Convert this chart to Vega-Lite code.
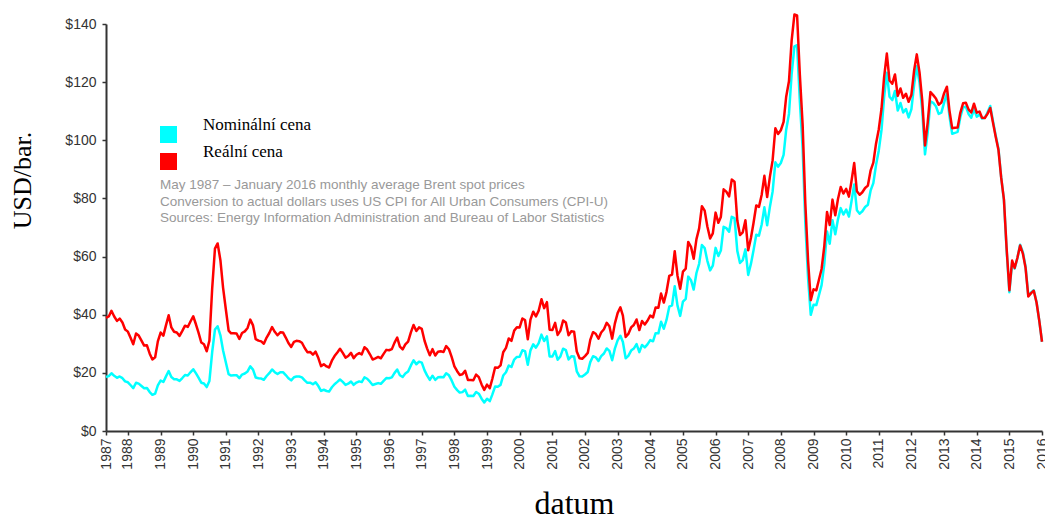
{
"$schema":"https://vega.github.io/schema/vega-lite/v6.json",
"width":936,"height":407,
"autosize":{"type":"none"},
"padding":{"left":106,"top":24,"right":3,"bottom":87},
"background":"white",
"config":{"view":{"stroke":null},"axis":{"grid":false}},
"data":{"values":[
{"date":"1987-05-01","nominal":18.58,"real":38.92},{"date":"1987-06-01","nominal":18.86,"real":39.39},{"date":"1987-07-01","nominal":19.86,"real":41.35},{"date":"1987-08-01","nominal":18.98,"real":39.38},{"date":"1987-09-01","nominal":18.31,"real":37.87},{"date":"1987-10-01","nominal":18.76,"real":38.67},{"date":"1987-11-01","nominal":18.17,"real":37.33},{"date":"1987-12-01","nominal":17.06,"real":34.93},
{"date":"1988-01-01","nominal":16.75,"real":34.18},{"date":"1988-02-01","nominal":15.73,"real":31.99},{"date":"1988-03-01","nominal":14.73,"real":29.85},{"date":"1988-04-01","nominal":16.6,"real":33.53},{"date":"1988-05-01","nominal":16.31,"real":32.83},{"date":"1988-06-01","nominal":15.49,"real":31.07},{"date":"1988-07-01","nominal":14.71,"real":29.4},{"date":"1988-08-01","nominal":14.81,"real":29.49},{"date":"1988-09-01","nominal":13.4,"real":26.58},{"date":"1988-10-01","nominal":12.46,"real":24.62},{"date":"1988-11-01","nominal":12.89,"real":25.37},{"date":"1988-12-01","nominal":15.72,"real":30.82},
{"date":"1989-01-01","nominal":17.35,"real":33.88},{"date":"1989-02-01","nominal":16.86,"real":32.79},{"date":"1989-03-01","nominal":18.71,"real":36.25},{"date":"1989-04-01","nominal":20.63,"real":39.81},{"date":"1989-05-01","nominal":18.55,"real":35.65},{"date":"1989-06-01","nominal":17.83,"real":34.13},{"date":"1989-07-01","nominal":17.76,"real":33.86},{"date":"1989-08-01","nominal":17.23,"real":32.71},{"date":"1989-09-01","nominal":18.22,"real":34.44},{"date":"1989-10-01","nominal":19.25,"real":36.23},{"date":"1989-11-01","nominal":19.1,"real":35.79},{"date":"1989-12-01","nominal":20.19,"real":37.67},
{"date":"1990-01-01","nominal":21.25,"real":39.47},{"date":"1990-02-01","nominal":19.81,"real":36.63},{"date":"1990-03-01","nominal":18.39,"real":33.86},{"date":"1990-04-01","nominal":16.61,"real":30.45},{"date":"1990-05-01","nominal":16.35,"real":29.84},{"date":"1990-06-01","nominal":15.1,"real":27.43},{"date":"1990-07-01","nominal":17.17,"real":31.07},{"date":"1990-08-01","nominal":27.17,"real":49.0},{"date":"1990-09-01","nominal":34.9,"real":62.73},{"date":"1990-10-01","nominal":36.02,"real":64.52},{"date":"1990-11-01","nominal":32.91,"real":58.75},{"date":"1990-12-01","nominal":27.69,"real":49.26},
{"date":"1991-01-01","nominal":23.57,"real":41.79},{"date":"1991-02-01","nominal":19.54,"real":34.53},{"date":"1991-03-01","nominal":19.08,"real":33.6},{"date":"1991-04-01","nominal":19.18,"real":33.65},{"date":"1991-05-01","nominal":19.19,"real":33.56},{"date":"1991-06-01","nominal":18.17,"real":31.66},{"date":"1991-07-01","nominal":19.4,"real":33.7},{"date":"1991-08-01","nominal":19.77,"real":34.26},{"date":"1991-09-01","nominal":20.5,"real":35.44},{"date":"1991-10-01","nominal":22.21,"real":38.3},{"date":"1991-11-01","nominal":21.11,"real":36.32},{"date":"1991-12-01","nominal":18.41,"real":31.59},
{"date":"1992-01-01","nominal":18.16,"real":31.09},{"date":"1992-02-01","nominal":18.05,"real":30.82},{"date":"1992-03-01","nominal":17.63,"real":30.03},{"date":"1992-04-01","nominal":18.92,"real":32.15},{"date":"1992-05-01","nominal":19.89,"real":33.71},{"date":"1992-06-01","nominal":21.16,"real":35.77},{"date":"1992-07-01","nominal":20.23,"real":34.12},{"date":"1992-08-01","nominal":19.58,"real":32.94},{"date":"1992-09-01","nominal":20.23,"real":33.95},{"date":"1992-10-01","nominal":20.25,"real":33.9},{"date":"1992-11-01","nominal":19.25,"real":32.15},{"date":"1992-12-01","nominal":18.16,"real":30.25},
{"date":"1993-01-01","nominal":17.41,"real":28.93},{"date":"1993-02-01","nominal":18.5,"real":30.67},{"date":"1993-03-01","nominal":18.75,"real":31.01},{"date":"1993-04-01","nominal":18.74,"real":30.91},{"date":"1993-05-01","nominal":18.45,"real":30.36},{"date":"1993-06-01","nominal":17.39,"real":28.55},{"date":"1993-07-01","nominal":16.56,"real":27.12},{"date":"1993-08-01","nominal":16.63,"real":27.18},{"date":"1993-09-01","nominal":16.09,"real":26.24},{"date":"1993-10-01","nominal":16.77,"real":27.29},{"date":"1993-11-01","nominal":15.45,"real":25.09},{"date":"1993-12-01","nominal":13.77,"real":22.32},
{"date":"1994-01-01","nominal":14.19,"real":22.95},{"date":"1994-02-01","nominal":13.76,"real":22.21},{"date":"1994-03-01","nominal":13.56,"real":21.84},{"date":"1994-04-01","nominal":15.04,"real":24.17},{"date":"1994-05-01","nominal":16.08,"real":25.79},{"date":"1994-06-01","nominal":16.89,"real":27.03},{"date":"1994-07-01","nominal":17.73,"real":28.31},{"date":"1994-08-01","nominal":16.88,"real":26.89},{"date":"1994-09-01","nominal":15.87,"real":25.22},{"date":"1994-10-01","nominal":16.27,"real":25.8},{"date":"1994-11-01","nominal":17.0,"real":26.89},{"date":"1994-12-01","nominal":15.88,"real":25.06},
{"date":"1995-01-01","nominal":16.65,"real":26.22},{"date":"1995-02-01","nominal":17.06,"real":26.8},{"date":"1995-03-01","nominal":16.82,"real":26.36},{"date":"1995-04-01","nominal":18.44,"real":28.83},{"date":"1995-05-01","nominal":17.97,"real":28.03},{"date":"1995-06-01","nominal":16.96,"real":26.39},{"date":"1995-07-01","nominal":15.84,"real":24.59},{"date":"1995-08-01","nominal":16.15,"real":25.01},{"date":"1995-09-01","nominal":16.48,"real":25.46},{"date":"1995-10-01","nominal":16.23,"real":25.02},{"date":"1995-11-01","nominal":17.25,"real":26.53},{"date":"1995-12-01","nominal":18.19,"real":27.91},
{"date":"1996-01-01","nominal":18.15,"real":27.77},{"date":"1996-02-01","nominal":18.45,"real":28.17},{"date":"1996-03-01","nominal":19.91,"real":30.32},{"date":"1996-04-01","nominal":21.16,"real":32.15},{"date":"1996-05-01","nominal":19.17,"real":29.05},{"date":"1996-06-01","nominal":18.59,"real":28.1},{"date":"1996-07-01","nominal":19.76,"real":29.81},{"date":"1996-08-01","nominal":20.44,"real":30.78},{"date":"1996-09-01","nominal":22.56,"real":33.9},{"date":"1996-10-01","nominal":24.32,"real":36.48},{"date":"1996-11-01","nominal":22.96,"real":34.38},{"date":"1996-12-01","nominal":23.85,"real":35.64},
{"date":"1997-01-01","nominal":23.54,"real":35.11},{"date":"1997-02-01","nominal":20.85,"real":31.04},{"date":"1997-03-01","nominal":19.13,"real":28.43},{"date":"1997-04-01","nominal":17.56,"real":26.04},{"date":"1997-05-01","nominal":19.02,"real":28.15},{"date":"1997-06-01","nominal":17.58,"real":25.97},{"date":"1997-07-01","nominal":18.46,"real":27.23},{"date":"1997-08-01","nominal":18.6,"real":27.4},{"date":"1997-09-01","nominal":18.48,"real":27.19},{"date":"1997-10-01","nominal":19.88,"real":29.21},{"date":"1997-11-01","nominal":19.16,"real":28.12},{"date":"1997-12-01","nominal":17.4,"real":25.5},
{"date":"1998-01-01","nominal":15.21,"real":22.26},{"date":"1998-02-01","nominal":14.07,"real":20.57},{"date":"1998-03-01","nominal":13.21,"real":19.29},{"date":"1998-04-01","nominal":13.37,"real":19.49},{"date":"1998-05-01","nominal":14.21,"real":20.69},{"date":"1998-06-01","nominal":12.07,"real":17.55},{"date":"1998-07-01","nominal":12.1,"real":17.57},{"date":"1998-08-01","nominal":12.06,"real":17.48},{"date":"1998-09-01","nominal":13.42,"real":19.42},{"date":"1998-10-01","nominal":12.83,"real":18.53},{"date":"1998-11-01","nominal":11.11,"real":16.02},{"date":"1998-12-01","nominal":9.82,"real":14.13},
{"date":"1999-01-01","nominal":11.1,"real":15.94},{"date":"1999-02-01","nominal":10.27,"real":14.73},{"date":"1999-03-01","nominal":12.51,"real":17.9},{"date":"1999-04-01","nominal":15.29,"real":21.84},{"date":"1999-05-01","nominal":15.23,"real":21.72},{"date":"1999-06-01","nominal":15.86,"real":22.57},{"date":"1999-07-01","nominal":19.08,"real":27.1},{"date":"1999-08-01","nominal":20.21,"real":28.62},{"date":"1999-09-01","nominal":22.54,"real":31.84},{"date":"1999-10-01","nominal":22.0,"real":30.99},{"date":"1999-11-01","nominal":24.58,"real":34.53},{"date":"1999-12-01","nominal":25.47,"real":35.68},
{"date":"2000-01-01","nominal":25.51,"real":35.63},{"date":"2000-02-01","nominal":27.78,"real":38.7},{"date":"2000-03-01","nominal":27.49,"real":38.19},{"date":"2000-04-01","nominal":22.76,"real":31.53},{"date":"2000-05-01","nominal":27.74,"real":38.32},{"date":"2000-06-01","nominal":29.8,"real":41.05},{"date":"2000-07-01","nominal":28.68,"real":39.41},{"date":"2000-08-01","nominal":30.2,"real":41.4},{"date":"2000-09-01","nominal":33.14,"real":45.33},{"date":"2000-10-01","nominal":30.96,"real":42.25},{"date":"2000-11-01","nominal":32.55,"real":44.32},{"date":"2000-12-01","nominal":25.66,"real":34.85},
{"date":"2001-01-01","nominal":25.62,"real":34.72},{"date":"2001-02-01","nominal":27.5,"real":37.18},{"date":"2001-03-01","nominal":24.5,"real":33.05},{"date":"2001-04-01","nominal":25.66,"real":34.53},{"date":"2001-05-01","nominal":28.31,"real":38.01},{"date":"2001-06-01","nominal":27.85,"real":37.3},{"date":"2001-07-01","nominal":24.61,"real":32.9},{"date":"2001-08-01","nominal":25.68,"real":34.29},{"date":"2001-09-01","nominal":25.62,"real":34.16},{"date":"2001-10-01","nominal":20.54,"real":27.35},{"date":"2001-11-01","nominal":18.8,"real":25.0},{"date":"2001-12-01","nominal":18.71,"real":24.85},
{"date":"2002-01-01","nominal":19.42,"real":25.76},{"date":"2002-02-01","nominal":20.28,"real":26.86},{"date":"2002-03-01","nominal":23.7,"real":31.35},{"date":"2002-04-01","nominal":25.73,"real":33.99},{"date":"2002-05-01","nominal":25.35,"real":33.45},{"date":"2002-06-01","nominal":24.08,"real":31.73},{"date":"2002-07-01","nominal":25.74,"real":33.86},{"date":"2002-08-01","nominal":26.65,"real":34.99},{"date":"2002-09-01","nominal":28.4,"real":37.22},{"date":"2002-10-01","nominal":27.54,"real":36.03},{"date":"2002-11-01","nominal":24.34,"real":31.78},{"date":"2002-12-01","nominal":28.33,"real":36.93},
{"date":"2003-01-01","nominal":31.18,"real":40.56},{"date":"2003-02-01","nominal":32.77,"real":42.55},{"date":"2003-03-01","nominal":30.61,"real":39.67},{"date":"2003-04-01","nominal":25.0,"real":32.34},{"date":"2003-05-01","nominal":25.86,"real":33.39},{"date":"2003-06-01","nominal":27.65,"real":35.63},{"date":"2003-07-01","nominal":28.35,"real":36.46},{"date":"2003-08-01","nominal":29.89,"real":38.36},{"date":"2003-09-01","nominal":27.11,"real":34.72},{"date":"2003-10-01","nominal":29.61,"real":37.83},{"date":"2003-11-01","nominal":28.75,"real":36.66},{"date":"2003-12-01","nominal":29.81,"real":37.92},
{"date":"2004-01-01","nominal":31.28,"real":39.71},{"date":"2004-02-01","nominal":30.86,"real":39.09},{"date":"2004-03-01","nominal":33.63,"real":42.5},{"date":"2004-04-01","nominal":33.59,"real":42.36},{"date":"2004-05-01","nominal":37.57,"real":47.27},{"date":"2004-06-01","nominal":35.18,"real":44.17},{"date":"2004-07-01","nominal":38.22,"real":47.87},{"date":"2004-08-01","nominal":42.74,"real":53.38},{"date":"2004-09-01","nominal":43.2,"real":53.81},{"date":"2004-10-01","nominal":49.78,"real":61.83},{"date":"2004-11-01","nominal":43.11,"real":53.4},{"date":"2004-12-01","nominal":39.6,"real":48.92},
{"date":"2005-01-01","nominal":44.51,"real":54.83},{"date":"2005-02-01","nominal":45.48,"real":55.87},{"date":"2005-03-01","nominal":53.1,"real":65.05},{"date":"2005-04-01","nominal":51.88,"real":63.37},{"date":"2005-05-01","nominal":48.65,"real":59.26},{"date":"2005-06-01","nominal":54.35,"real":66.02},{"date":"2005-07-01","nominal":57.52,"real":69.68},{"date":"2005-08-01","nominal":63.98,"real":77.31},{"date":"2005-09-01","nominal":62.91,"real":75.81},{"date":"2005-10-01","nominal":58.54,"real":70.36},{"date":"2005-11-01","nominal":55.24,"real":66.22},{"date":"2005-12-01","nominal":56.86,"real":67.98},
{"date":"2006-01-01","nominal":62.99,"real":75.12},{"date":"2006-02-01","nominal":60.21,"real":71.61},{"date":"2006-03-01","nominal":62.06,"real":73.62},{"date":"2006-04-01","nominal":70.26,"real":83.12},{"date":"2006-05-01","nominal":69.78,"real":82.33},{"date":"2006-06-01","nominal":68.56,"real":80.67},{"date":"2006-07-01","nominal":73.67,"real":86.47},{"date":"2006-08-01","nominal":73.23,"real":85.76},{"date":"2006-09-01","nominal":61.96,"real":72.39},{"date":"2006-10-01","nominal":57.81,"real":67.39},{"date":"2006-11-01","nominal":58.76,"real":68.34},{"date":"2006-12-01","nominal":62.47,"real":72.48},
{"date":"2007-01-01","nominal":53.68,"real":62.14},{"date":"2007-02-01","nominal":57.56,"real":66.48},{"date":"2007-03-01","nominal":62.05,"real":71.49},{"date":"2007-04-01","nominal":67.49,"real":77.58},{"date":"2007-05-01","nominal":67.21,"real":77.08},{"date":"2007-06-01","nominal":71.05,"real":81.29},{"date":"2007-07-01","nominal":76.93,"real":87.78},{"date":"2007-08-01","nominal":70.76,"real":80.49},{"date":"2007-09-01","nominal":77.17,"real":87.51},{"date":"2007-10-01","nominal":82.34,"real":93.08},{"date":"2007-11-01","nominal":92.41,"real":104.14},{"date":"2007-12-01","nominal":90.93,"real":102.14},
{"date":"2008-01-01","nominal":92.18,"real":103.45},{"date":"2008-02-01","nominal":94.99,"real":106.3},{"date":"2008-03-01","nominal":103.64,"real":114.98},{"date":"2008-04-01","nominal":109.07,"real":120.28},{"date":"2008-05-01","nominal":122.8,"real":134.29},{"date":"2008-06-01","nominal":132.32,"real":143.25},{"date":"2008-07-01","nominal":132.72,"real":142.94},{"date":"2008-08-01","nominal":113.24,"real":122.45},{"date":"2008-09-01","nominal":97.23,"real":105.28},{"date":"2008-10-01","nominal":71.58,"real":78.3},{"date":"2008-11-01","nominal":52.45,"real":58.49},{"date":"2008-12-01","nominal":39.95,"real":45.02},
{"date":"2009-01-01","nominal":43.44,"real":48.74},{"date":"2009-02-01","nominal":43.32,"real":48.36},{"date":"2009-03-01","nominal":46.54,"real":51.83},{"date":"2009-04-01","nominal":50.18,"real":55.74},{"date":"2009-05-01","nominal":57.3,"real":63.47},{"date":"2009-06-01","nominal":68.61,"real":75.35},{"date":"2009-07-01","nominal":64.44,"real":70.89},{"date":"2009-08-01","nominal":72.51,"real":79.59},{"date":"2009-09-01","nominal":67.65,"real":74.21},{"date":"2009-10-01","nominal":72.77,"real":79.74},{"date":"2009-11-01","nominal":76.66,"real":83.95},{"date":"2009-12-01","nominal":74.46,"real":81.68},
{"date":"2010-01-01","nominal":76.17,"real":83.28},{"date":"2010-02-01","nominal":73.75,"real":80.61},{"date":"2010-03-01","nominal":78.83,"real":85.81},{"date":"2010-04-01","nominal":84.82,"real":92.17},{"date":"2010-05-01","nominal":75.95,"real":82.47},{"date":"2010-06-01","nominal":74.76,"real":81.25},{"date":"2010-07-01","nominal":75.58,"real":82.13},{"date":"2010-08-01","nominal":77.04,"real":83.6},{"date":"2010-09-01","nominal":77.84,"real":84.42},{"date":"2010-10-01","nominal":82.67,"real":89.55},{"date":"2010-11-01","nominal":85.28,"real":92.33},{"date":"2010-12-01","nominal":91.45,"real":98.84},
{"date":"2011-01-01","nominal":96.52,"real":103.83},{"date":"2011-02-01","nominal":103.72,"real":111.02},{"date":"2011-03-01","nominal":114.64,"real":121.53},{"date":"2011-04-01","nominal":123.26,"real":129.83},{"date":"2011-05-01","nominal":114.99,"real":120.56},{"date":"2011-06-01","nominal":113.83,"real":119.46},{"date":"2011-07-01","nominal":116.97,"real":122.66},{"date":"2011-08-01","nominal":110.22,"real":115.26},{"date":"2011-09-01","nominal":112.83,"real":117.81},{"date":"2011-10-01","nominal":109.55,"real":114.62},{"date":"2011-11-01","nominal":110.77,"real":116.0},{"date":"2011-12-01","nominal":107.87,"real":113.24},
{"date":"2012-01-01","nominal":110.69,"real":115.68},{"date":"2012-02-01","nominal":119.33,"real":124.18},{"date":"2012-03-01","nominal":125.45,"real":129.55},{"date":"2012-04-01","nominal":119.75,"real":123.29},{"date":"2012-05-01","nominal":110.34,"real":113.74},{"date":"2012-06-01","nominal":95.16,"real":98.23},{"date":"2012-07-01","nominal":102.62,"real":106.11},{"date":"2012-08-01","nominal":113.36,"real":116.57},{"date":"2012-09-01","nominal":112.86,"real":115.53},{"date":"2012-10-01","nominal":111.71,"real":114.4},{"date":"2012-11-01","nominal":109.06,"real":112.22},{"date":"2012-12-01","nominal":109.49,"real":112.97},
{"date":"2013-01-01","nominal":112.96,"real":116.2},{"date":"2013-02-01","nominal":116.05,"real":118.42},{"date":"2013-03-01","nominal":108.47,"real":110.39},{"date":"2013-04-01","nominal":102.25,"real":104.17},{"date":"2013-05-01","nominal":102.56,"real":104.3},{"date":"2013-06-01","nominal":102.92,"real":104.42},{"date":"2013-07-01","nominal":107.93,"real":109.45},{"date":"2013-08-01","nominal":111.28,"real":112.72},{"date":"2013-09-01","nominal":111.6,"real":112.91},{"date":"2013-10-01","nominal":109.08,"real":110.64},{"date":"2013-11-01","nominal":107.79,"real":109.56},{"date":"2013-12-01","nominal":110.76,"real":112.59},
{"date":"2014-01-01","nominal":108.12,"real":109.49},{"date":"2014-02-01","nominal":108.9,"real":109.88},{"date":"2014-03-01","nominal":107.48,"real":107.76},{"date":"2014-04-01","nominal":107.76,"real":107.68},{"date":"2014-05-01","nominal":109.54,"real":109.08},{"date":"2014-06-01","nominal":111.8,"real":111.13},{"date":"2014-07-01","nominal":106.77,"real":106.16},{"date":"2014-08-01","nominal":101.61,"real":101.2},{"date":"2014-09-01","nominal":97.09,"real":96.63},{"date":"2014-10-01","nominal":87.43,"real":87.24},{"date":"2014-11-01","nominal":79.44,"real":79.69},{"date":"2014-12-01","nominal":62.34,"real":62.89},
{"date":"2015-01-01","nominal":47.76,"real":48.41},{"date":"2015-02-01","nominal":58.1,"real":58.64},{"date":"2015-03-01","nominal":55.89,"real":56.08},{"date":"2015-04-01","nominal":59.52,"real":59.6},{"date":"2015-05-01","nominal":64.08,"real":63.84},{"date":"2015-06-01","nominal":61.48,"real":61.04},{"date":"2015-07-01","nominal":56.56,"real":56.15},{"date":"2015-08-01","nominal":46.52,"real":46.25},{"date":"2015-09-01","nominal":47.62,"real":47.42},{"date":"2015-10-01","nominal":48.43,"real":48.24},{"date":"2015-11-01","nominal":44.27,"real":44.19},{"date":"2015-12-01","nominal":38.01,"real":38.07},
{"date":"2016-01-01","nominal":30.7,"real":30.7}
]},
"transform":[{"fold":["nominal","real"],"as":["series","price"]}],
"mark":{"type":"line","strokeWidth":2.5,"strokeJoin":"round"},
"encoding":{
"x":{"field":"date","type":"temporal",
"scale":{"type":"utc","nice":false,"domain":[{"year":1987,"month":5,"date":1,"utc":true},{"year":2016,"month":1,"date":1,"utc":true}]},
"axis":{"values":[{"year":1987,"month":5,"date":1,"utc":true},{"year":1988,"utc":true},{"year":1989,"utc":true},{"year":1990,"utc":true},{"year":1991,"utc":true},{"year":1992,"utc":true},{"year":1993,"utc":true},{"year":1994,"utc":true},{"year":1995,"utc":true},{"year":1996,"utc":true},{"year":1997,"utc":true},{"year":1998,"utc":true},{"year":1999,"utc":true},{"year":2000,"utc":true},{"year":2001,"utc":true},{"year":2002,"utc":true},{"year":2003,"utc":true},{"year":2004,"utc":true},{"year":2005,"utc":true},{"year":2006,"utc":true},{"year":2007,"utc":true},{"year":2008,"utc":true},{"year":2009,"utc":true},{"year":2010,"utc":true},{"year":2011,"utc":true},{"year":2012,"utc":true},{"year":2013,"utc":true},{"year":2014,"utc":true},{"year":2015,"utc":true},{"year":2016,"utc":true}],
"labelExpr":"utcFormat(datum.value, '%Y')","labelAngle":270,"labelFont":"Liberation Sans","labelFontSize":14,"labelColor":"#333333","labelPadding":3,"labelOverlap":false,"labelFlush":false,"labelBound":false,
"tickSize":4,"tickColor":"#333333","tickWidth":1.5,"domainColor":"#333333","domainWidth":2,
"title":"datum","titleFont":"Liberation Serif","titleFontSize":32,"titleFontWeight":"normal","titleColor":"#000000","titleX":468,"titleY":82,"titleAlign":"center","titleBaseline":"alphabetic"}},
"y":{"field":"price","type":"quantitative","scale":{"domain":[0,140],"nice":false},
"axis":{"values":[0,20,40,60,80,100,120,140],"labelExpr":"'$' + datum.value","labelFont":"Liberation Sans","labelFontSize":14,"labelColor":"#333333","labelPadding":6,
"tickSize":4,"tickColor":"#333333","tickWidth":1.5,"domainColor":"#333333","domainWidth":2,
"title":"USD/bar.","titleFont":"Liberation Serif","titleFontSize":26,"titleFontWeight":"normal","titleColor":"#000000","titleAngle":270,"titleX":-84,"titleY":156,"titleAlign":"center","titleBaseline":"middle"}},
"color":{"field":"series","type":"nominal","scale":{"domain":["nominal","real"],"range":["#00FFFF","#FF0000"]},
"legend":{"orient":"none","legendX":54,"legendY":102,"direction":"vertical","padding":0,
"title":["May 1987 – January 2016 monthly average Brent spot prices","Conversion to actual dollars uses US CPI for All Urban Consumers (CPI-U)","Sources: Energy Information Administration and Bureau of Labor Statistics"],
"titleOrient":"bottom","titleAnchor":"start","titleAlign":"left","titleFont":"Liberation Sans","titleFontSize":13.5,"titleFontWeight":"normal","titleColor":"#999999","titleLineHeight":16.5,"titleLimit":2000,"titlePadding":8,
"labelExpr":"datum.value == 'nominal' ? 'Nominální cena' : 'Reální cena'","labelFont":"Liberation Serif","labelFontSize":17,"labelColor":"#000000","labelOffset":26,"labelBaseline":"bottom","labelLimit":400,
"symbolType":"square","symbolSize":289,"symbolStrokeWidth":0,"rowPadding":-1,
"encode":{"symbols":{"update":{"fill":{"scale":"color","field":"value"},"fillOpacity":{"value":1},"stroke":{"value":"transparent"}}},"labels":{"update":{"dy":{"value":-1}}}}}}
}
}
